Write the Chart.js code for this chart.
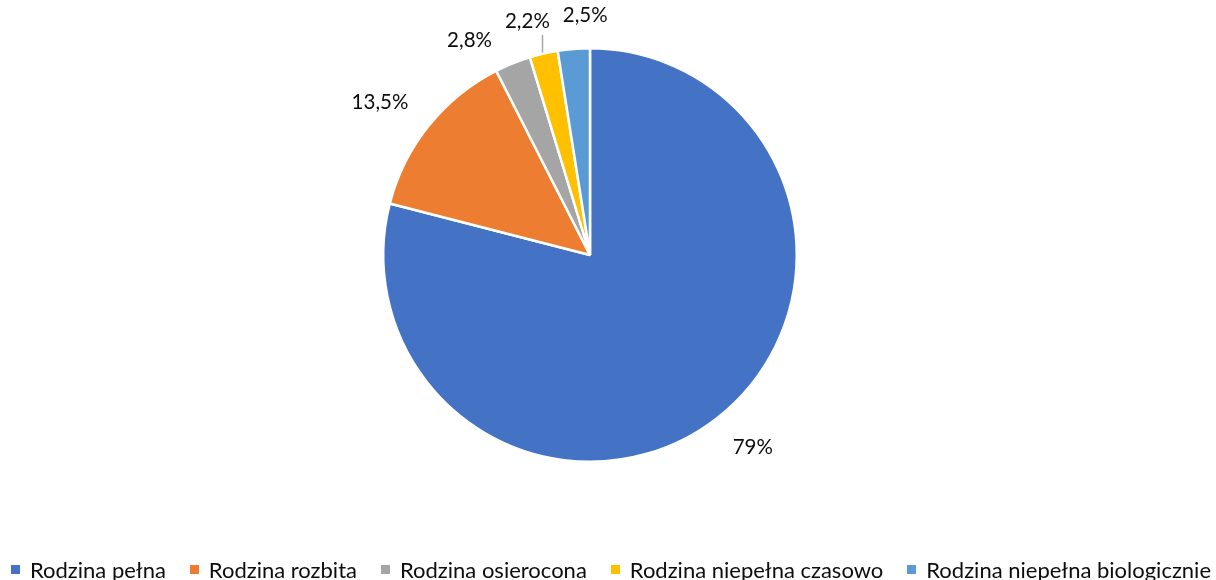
<!DOCTYPE html>
<html>
<head>
<meta charset="utf-8">
<script src="https://cdn.jsdelivr.net/npm/chart.js@4.4.1/dist/chart.umd.min.js"></script>
<style>
  html, body { margin: 0; padding: 0; background: #ffffff; }
  #wrap { width: 1216px; height: 580px; }
</style>
</head>
<body>
<div id="wrap"><canvas id="c" width="1216" height="580"></canvas></div>
<script>
const categories = ['Rodzina pełna', 'Rodzina rozbita', 'Rodzina osierocona', 'Rodzina niepełna czasowo', 'Rodzina niepełna biologicznie'];
const values = [79, 13.5, 2.8, 2.2, 2.5];
const valueLabels = ['79%', '13,5%', '2,8%', '2,2%', '2,5%'];
const colors = ['#4472C4', '#ED7D31', '#A5A5A5', '#FFC000', '#5B9BD5'];
const leaderLabels = ['Rodzina niepełna czasowo'];

const FONT = 'Lato, "Open Sans", sans-serif';
const TEXT_COLOR = '#0d0d0d';

function clamp(v) { return Math.max(-1, Math.min(1, v)); }

const outsideLabels = {
  id: 'outsideLabels',
  afterDatasetsDraw(chart) {
    const ctx = chart.ctx;
    const meta = chart.getDatasetMeta(0);
    const fs = 20.5;
    ctx.save();
    ctx.font = fs + 'px ' + FONT;
    const h = fs * 0.75;
    const items = meta.data.map((arc, i) => {
      const p = arc.getProps(['x', 'y', 'startAngle', 'endAngle', 'outerRadius'], true);
      const mid = (p.startAngle + p.endAngle) / 2;
      const c = Math.cos(mid), s = Math.sin(mid);
      const d = p.outerRadius + 26;
      const ax = p.x + c * d, ay = p.y + s * d;
      const w = ctx.measureText(valueLabels[i]).width;
      const cx0 = ax + clamp(2 * c) * w / 2;
      const cy0 = ay + clamp(2 * s) * h / 2;
      const D = Math.hypot(cx0 - p.x, cy0 - p.y);
      return { i, w, x: cx0, y: cy0, D, px: p.x, py: p.y, r: p.outerRadius, c, s, up: cy0 < p.y };
    });
    // resolve overlaps by pushing labels apart horizontally along their circle
    const gap = 13, H = 24;
    for (let it = 0; it < 80; it++) {
      for (let a = 0; a < items.length; a++) {
        for (let b = a + 1; b < items.length; b++) {
          const A = items[a], B = items[b];
          if (Math.abs(A.y - B.y) >= H) continue;
          const need = (A.w + B.w) / 2 + gap;
          const dx = B.x - A.x;
          if (Math.abs(dx) >= need) continue;
          const dir = dx >= 0 ? 1 : -1;
          const push = (need - Math.abs(dx)) / 2;
          A.x -= dir * push; B.x += dir * push;
        }
      }
      items.forEach(L => {
        const ddx = L.x - L.px;
        const rem = Math.max(L.D * L.D - ddx * ddx, 0);
        L.y = L.py + (L.up ? -1 : 1) * Math.sqrt(rem);
      });
    }
    ctx.fillStyle = TEXT_COLOR;
    ctx.textAlign = 'center';
    ctx.textBaseline = 'alphabetic';
    items.forEach(L => {
      ctx.fillText(valueLabels[L.i], L.x, L.y + fs * 0.36);
      if (leaderLabels.includes(categories[L.i])) {
        const ex = L.px + L.c * (L.r + 1), ey = L.py + L.s * (L.r + 1);
        ctx.save();
        ctx.strokeStyle = '#A6A6A6';
        ctx.lineWidth = 1.5;
        ctx.beginPath();
        ctx.moveTo(Math.round(ex) - 0.5, ey);
        ctx.lineTo(Math.round(ex) - 0.5, L.y + fs * 0.7);
        ctx.stroke();
        ctx.restore();
      }
    });
    ctx.restore();
  }
};

const bottomLegend = {
  id: 'bottomLegend',
  afterDraw(chart) {
    const ctx = chart.ctx;
    const fs = 22;
    ctx.save();
    ctx.font = fs + 'px ' + FONT;
    const box = 9, boxGap = 10, itemGap = 24;
    const widths = categories.map(t => ctx.measureText(t).width);
    const total = widths.reduce((a, w) => a + box + boxGap + w, 0) + itemGap * (categories.length - 1);
    let x = chart.width / 2 + 3 - total / 2;
    const baseline = 578;
    ctx.textAlign = 'left';
    ctx.textBaseline = 'alphabetic';
    categories.forEach((t, i) => {
      ctx.fillStyle = colors[i];
      ctx.fillRect(Math.round(x), 565, box, box);
      ctx.fillStyle = TEXT_COLOR;
      ctx.fillText(t, x + box + boxGap, baseline);
      x += box + boxGap + widths[i] + itemGap;
    });
    ctx.restore();
  }
};

new Chart(document.getElementById('c'), {
  type: 'pie',
  data: {
    labels: categories,
    datasets: [{
      data: values,
      backgroundColor: colors,
      borderColor: '#ffffff',
      borderWidth: 2.5
    }]
  },
  options: {
    responsive: false,
    animation: false,
    devicePixelRatio: 1,
    layout: { padding: { top: 47, bottom: 117, left: 0, right: 36 } },
    plugins: {
      legend: { display: false },
      tooltip: { enabled: false }
    }
  },
  plugins: [outsideLabels, bottomLegend]
});
</script>
</body>
</html>
